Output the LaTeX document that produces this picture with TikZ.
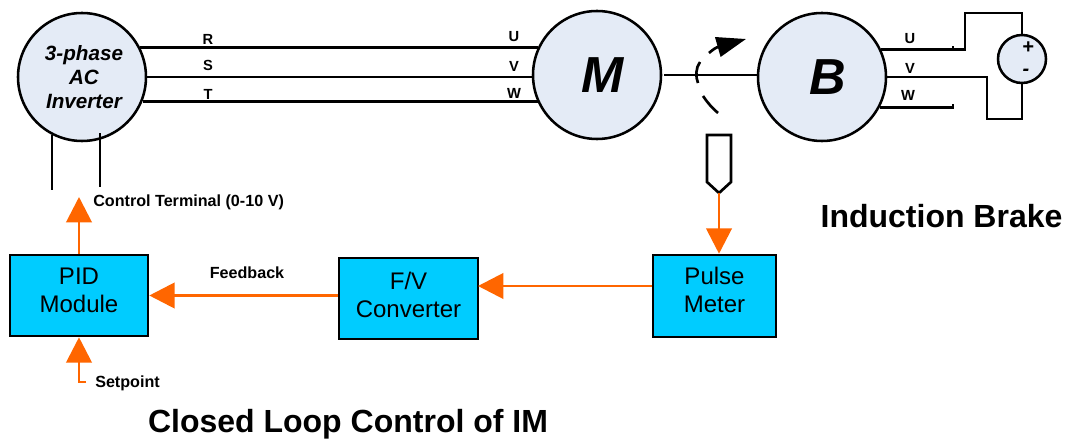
\documentclass[tikz,border=0pt]{standalone}
\usepackage{fontspec}
\setmainfont{Liberation Sans}
\usepackage{xcolor}
\usetikzlibrary{arrows.meta}
\definecolor{discblue}{HTML}{E4EBF6}
\definecolor{boxblue}{HTML}{00CCFF}
\definecolor{linkorange}{HTML}{FF6600}
\tikzset{
wire/.style={line width=2pt,line join=miter},
disc/.style={shape=circle,draw,line width=1.9pt,fill=discblue,inner sep=0pt,minimum size=96pt},
letter/.style={font=\fontsize{38}{40}\selectfont\bfseries\itshape},
block/.style={shape=rectangle,draw,line width=1.9pt,fill=boxblue,align=center,inner sep=0pt,
  font=\fontsize{18}{21}\selectfont},
link/.style={draw=linkorange,line width=2.2pt,-{Triangle[length=19pt,width=19pt]}},
tag/.style={font=\fontsize{11}{13}\selectfont\bfseries,inner sep=0pt},
longtag/.style={font=\fontsize{12.1}{14}\selectfont\bfseries,inner sep=0pt},
heading/.style={font=\fontsize{24}{28}\selectfont\bfseries,inner sep=0pt}
}
\begin{document}
\begin{tikzpicture}[x=0.75pt,y=-0.75pt,>=stealth]
\useasboundingbox (0,0) rectangle (1073,441);
% machines
\node[disc,align=center,font=\fontsize{15.5}{18}\selectfont\bfseries\itshape] (inverter) at (82,77) {\hspace{3pt}3-phase\\\hspace{3pt}AC\\\hspace{3pt}Inverter};
\node[disc,letter] (motor) at (597,75) {\hspace{9pt}M};
\node[disc,letter] (brake) at (822,77) {\hspace{9pt}B};
\node[disc,minimum size=36pt] (source) at (1022,59) {};
\draw (1028,48)node[font=\fontsize{15}{15}\selectfont\bfseries\itshape,inner sep=0pt] (plus){+}
(1026,72)node[font=\fontsize{15}{15}\selectfont\bfseries\itshape,inner sep=0pt] (minus){-};
% three phase lines
\draw[wire] (inverter.27)--(inverter.27-|motor.154);
\draw[wire] (inverter.east)--(inverter.east-|motor.west);
\draw[wire] (inverter.-22)--(inverter.-22-|motor.205);
\draw (208,39)node[tag] (r){R}
(208,65)node[tag] (s){S}
(208,94)node[tag] (t){T}
(514,37)node[tag] (u){U}
(514,66)node[tag] (v){V}
(514,93)node[tag] (w){W}
(910,39)node[tag] (ub){U}
(910,68)node[tag] (vb){V}
(908,95)node[tag] (wb){W};
% shaft and rotation mark
\draw[wire] ([xshift=1.5pt]motor.east)--(motor.east-|brake.west);
\draw[wire,-{Triangle[length=22pt,width=15pt]}] (709,53)..controls(713,49.5)and(716,47.5)..(746,39);
\draw[wire] (700,62)..controls(695.5,68)and(695.5,77)..(698,83);
\draw[wire] (703,96)..controls(707,102)and(712,108)..(718,113);
% brake wiring
\coordinate (ustub) at (965,50);
\coordinate (wstub) at (953,107);
\draw[wire] (brake.25)--(brake.25-|ustub)|-(1022,13)--(source.north);
\draw[wire] (brake.east)--(987,77)|-(1022,119)--(source.south);
\draw[wire] (brake.-28)--(brake.-28-|wstub)--++(0,-4);
\draw[wire] (953,50)--++(0,-4);
% inverter terminals
\coordinate (terma) at (52,190);
\coordinate (termb) at (100,187);
\draw[wire] (terma)--(52,135);
\draw[wire] (termb)--(100,133);
% speed sensing loop
\node[block,minimum width=103.5pt,minimum height=60.75pt] (pid) at (79,295.5) {PID\\Module\rule[-7.5pt]{0pt}{0pt}};
\node[block,minimum width=104.25pt,minimum height=60.75pt] (converter) at (408.5,298.5) {F/V\\Converter\rule[-6pt]{0pt}{0pt}};
\node[block,minimum width=92.25pt,minimum height=61.5pt] (pulse) at (714.5,296) {Pulse\\Meter\rule[-10pt]{0pt}{0pt}};
\coordinate (probe) at (719,193);
\coordinate (fvin) at (478,286);
\coordinate (setin) at (86,382);
\coordinate (ctrl) at (79,197);
\draw[wire] (707,135)--(731,135)--(731,182)--(probe)--(707,182)--cycle;
\draw[link] (probe)--(probe|-pulse.north);
\draw[link] (pulse.west|-fvin)--(fvin);
\draw[link] (converter.west|-pid.east)--(pid.east);
\draw[link] (pid.north-|ctrl)--(ctrl);
\draw[link] (setin)-|(pid.south-|ctrl);
\draw (93,202)node[longtag,anchor=west] (control){Control Terminal (0-10 V)}
(247,273)node[longtag] (feedback){Feedback}
(95,383)node[longtag,anchor=west] (setpoint){Setpoint}
(941.5,216)node[heading] (brakehead){Induction Brake}
(348,424)node[heading] (loophead){Closed Loop Control of IM};
\end{tikzpicture}
\end{document}
